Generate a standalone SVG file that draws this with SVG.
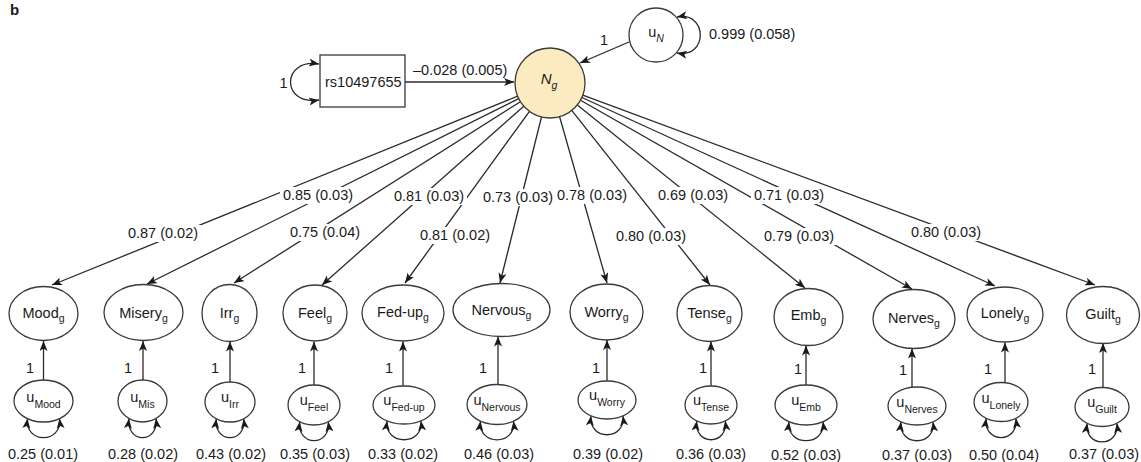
<svg xmlns="http://www.w3.org/2000/svg" width="1141" height="462" viewBox="0 0 1141 462">
<style>
text{font-family:"Liberation Sans",Arial,sans-serif;font-size:14.5px;fill:#1a1a1a}
.sub{font-size:10.5px}
.node{fill:#fff;stroke:#3a3a3a;stroke-width:1.3}
.c{fill:none;stroke:#2a2a2a;stroke-width:1.3}
.bg{fill:#fff;stroke:none}
.m{text-anchor:middle}
</style>
<defs>
<marker id="ah" markerUnits="userSpaceOnUse" markerWidth="10" markerHeight="8" refX="10" refY="4" orient="auto-start-reverse" viewBox="0 0 10 8">
<path d="M0,0 L10,4 L0,8 L2.5,4 z" fill="#1a1a1a"/>
</marker>
</defs>
<text x="10" y="15" style="font-weight:bold;font-size:15px">b</text>

<g id="connectors">
<line class="c" x1="517.6" y1="96.2" x2="52" y2="285" marker-end="url(#ah)"/>
<line class="c" x1="518.7" y1="98.6" x2="147" y2="284" marker-end="url(#ah)"/>
<line class="c" x1="520.4" y1="101.7" x2="234" y2="283" marker-end="url(#ah)"/>
<line class="c" x1="523.8" y1="106.2" x2="322" y2="285" marker-end="url(#ah)"/>
<line class="c" x1="529.5" y1="111.3" x2="405" y2="283" marker-end="url(#ah)"/>
<line class="c" x1="541.5" y1="117" x2="500" y2="283" marker-end="url(#ah)"/>
<line class="c" x1="559.6" y1="116.7" x2="607" y2="283" marker-end="url(#ah)"/>
<line class="c" x1="571.7" y1="110.4" x2="710" y2="285" marker-end="url(#ah)"/>
<line class="c" x1="577.3" y1="104.9" x2="805" y2="288" marker-end="url(#ah)"/>
<line class="c" x1="580.5" y1="100.2" x2="912" y2="289" marker-end="url(#ah)"/>
<line class="c" x1="581.9" y1="97.5" x2="995" y2="286" marker-end="url(#ah)"/>
<line class="c" x1="582.8" y1="95.2" x2="1095" y2="285" marker-end="url(#ah)"/>
<line class="c" x1="405" y1="82" x2="514" y2="82" marker-end="url(#ah)"/>
<line class="c" x1="629" y1="42" x2="580" y2="63" marker-end="url(#ah)"/>
<path class="c" d="M319 64 C281 58 281 106 319 100" marker-start="url(#ah)" marker-end="url(#ah)"/>
<path class="c" d="M677 17 C708 11 708 59 677 53" marker-start="url(#ah)" marker-end="url(#ah)"/>
<line class="c" x1="43.5" y1="380" x2="43.5" y2="341" marker-end="url(#ah)"/>
<line class="c" x1="143" y1="380" x2="143" y2="341" marker-end="url(#ah)"/>
<line class="c" x1="230" y1="382" x2="230" y2="341.5" marker-end="url(#ah)"/>
<line class="c" x1="314" y1="385" x2="314" y2="341.5" marker-end="url(#ah)"/>
<line class="c" x1="403" y1="386" x2="403" y2="341.5" marker-end="url(#ah)"/>
<line class="c" x1="498" y1="384.5" x2="498" y2="336.5" marker-end="url(#ah)"/>
<line class="c" x1="607" y1="381" x2="607" y2="340" marker-end="url(#ah)"/>
<line class="c" x1="711" y1="386" x2="711" y2="341.5" marker-end="url(#ah)"/>
<line class="c" x1="806" y1="385" x2="806" y2="345.5" marker-end="url(#ah)"/>
<line class="c" x1="912" y1="387.5" x2="912" y2="348.5" marker-end="url(#ah)"/>
<line class="c" x1="1005" y1="383" x2="1005" y2="342.5" marker-end="url(#ah)"/>
<line class="c" x1="1103" y1="387.5" x2="1103" y2="343" marker-end="url(#ah)"/>
<path class="c" d="M27.5 418.6 C24.5 444 62.5 444 59.5 418.6" marker-start="url(#ah)" marker-end="url(#ah)"/>
<path class="c" d="M129 418.5 C126 444 159 444 156 418.5" marker-start="url(#ah)" marker-end="url(#ah)"/>
<path class="c" d="M216.3 418.7 C213.3 444 246.7 444 243.7 418.7" marker-start="url(#ah)" marker-end="url(#ah)"/>
<path class="c" d="M299.7 421.7 C296.7 447 331.3 447 328.3 421.7" marker-start="url(#ah)" marker-end="url(#ah)"/>
<path class="c" d="M387 420.9 C384 446 424 446 421 420.9" marker-start="url(#ah)" marker-end="url(#ah)"/>
<path class="c" d="M480.5 421.2 C477.5 446 516.5 446 513.5 421.2" marker-start="url(#ah)" marker-end="url(#ah)"/>
<path class="c" d="M591 415.9 C588 441 626 441 623 415.9" marker-start="url(#ah)" marker-end="url(#ah)"/>
<path class="c" d="M696.7 420.9 C693.7 446 728.3 446 725.3 420.9" marker-start="url(#ah)" marker-end="url(#ah)"/>
<path class="c" d="M789 421.7 C786 447 826 447 823 421.7" marker-start="url(#ah)" marker-end="url(#ah)"/>
<path class="c" d="M901 421.9 C898 447 936 447 933 421.9" marker-start="url(#ah)" marker-end="url(#ah)"/>
<path class="c" d="M986.1 418.3 C983.1 444 1018.9 444 1015.9 418.3" marker-start="url(#ah)" marker-end="url(#ah)"/>
<path class="c" d="M1087.1 423.3 C1084.1 448 1119.9 448 1116.9 423.3" marker-start="url(#ah)" marker-end="url(#ah)"/>
</g>

<g id="edge-labels">
<rect class="bg" x="125" y="225" width="76" height="17"/>
<rect class="bg" x="280" y="187" width="76" height="17"/>
<rect class="bg" x="287" y="224" width="76" height="17"/>
<rect class="bg" x="391" y="188" width="76" height="17"/>
<rect class="bg" x="417" y="227" width="76" height="17"/>
<rect class="bg" x="480" y="189" width="76" height="17"/>
<rect class="bg" x="554" y="187" width="76" height="17"/>
<rect class="bg" x="613" y="228" width="76" height="17"/>
<rect class="bg" x="655" y="187" width="76" height="17"/>
<rect class="bg" x="751" y="187" width="76" height="17"/>
<rect class="bg" x="761" y="228" width="76" height="17"/>
<rect class="bg" x="908" y="224" width="76" height="17"/>
<text class="m" x="163" y="238">0.87 (0.02)</text>
<text class="m" x="318" y="200">0.85 (0.03)</text>
<text class="m" x="325" y="237">0.75 (0.04)</text>
<text class="m" x="429" y="201">0.81 (0.03)</text>
<text class="m" x="455" y="240">0.81 (0.02)</text>
<text class="m" x="518" y="202">0.73 (0.03)</text>
<text class="m" x="592" y="200">0.78 (0.03)</text>
<text class="m" x="651" y="241">0.80 (0.03)</text>
<text class="m" x="693" y="200">0.69 (0.03)</text>
<text class="m" x="789" y="200">0.71 (0.03)</text>
<text class="m" x="799" y="241">0.79 (0.03)</text>
<text class="m" x="946" y="237">0.80 (0.03)</text>
<text x="413" y="75">–0.028 (0.005)</text>
<text class="m" x="604" y="45">1</text>
<text x="709" y="39">0.999 (0.058)</text>
<text class="m" x="283.5" y="88">1</text>
<text class="m" x="30" y="373">1</text>
<text class="m" x="128" y="373">1</text>
<text class="m" x="215" y="373">1</text>
<text class="m" x="302" y="373">1</text>
<text class="m" x="389" y="373">1</text>
<text class="m" x="483" y="373">1</text>
<text class="m" x="596" y="373">1</text>
<text class="m" x="703" y="373">1</text>
<text class="m" x="798" y="374">1</text>
<text class="m" x="903" y="375">1</text>
<text class="m" x="988" y="374">1</text>
<text class="m" x="1092" y="374">1</text>
<text class="m" x="43" y="459">0.25 (0.01)</text>
<text class="m" x="143" y="459">0.28 (0.02)</text>
<text class="m" x="231" y="459">0.43 (0.02)</text>
<text class="m" x="315" y="459">0.35 (0.03)</text>
<text class="m" x="403" y="459">0.33 (0.02)</text>
<text class="m" x="499" y="459">0.46 (0.03)</text>
<text class="m" x="608" y="459">0.39 (0.02)</text>
<text class="m" x="711" y="459">0.36 (0.03)</text>
<text class="m" x="806" y="460">0.52 (0.03)</text>
<text class="m" x="917" y="460">0.37 (0.03)</text>
<text class="m" x="1004" y="460">0.50 (0.04)</text>
<text class="m" x="1104" y="459">0.37 (0.03)</text>
</g>

<g id="rs10497655">
<rect class="node" x="320" y="55" width="85" height="52"/>
<text x="325" y="87">rs10497655</text>
</g>
<g id="Ng">
<circle cx="550" cy="83" r="35" fill="#FCEBC1" stroke="#3a3a3a" stroke-width="1.3"/>
<text class="m" x="549" y="84" style="font-style:italic;font-size:15px">N<tspan class="sub" dy="5">g</tspan></text>
</g>
<g id="uN">
<ellipse class="node" cx="656" cy="35" rx="27" ry="27"/>
<text class="m" x="656" y="37">u<tspan class="sub" dy="5" style="font-style:italic">N</tspan></text>
</g>

<g id="Mood"><ellipse class="node" cx="43.5" cy="313.5" rx="34.5" ry="27"/><text class="m" x="43.5" y="318">Mood<tspan class="sub" dy="4">g</tspan></text></g>
<g id="Misery"><ellipse class="node" cx="143.5" cy="312.5" rx="39.5" ry="28"/><text class="m" x="143.5" y="318">Misery<tspan class="sub" dy="4">g</tspan></text></g>
<g id="Irr"><ellipse class="node" cx="229.5" cy="313" rx="27.5" ry="28.5"/><text class="m" x="229.5" y="318">Irr<tspan class="sub" dy="4">g</tspan></text></g>
<g id="Feel"><ellipse class="node" cx="315" cy="313" rx="32" ry="28"/><text class="m" x="315" y="318">Feel<tspan class="sub" dy="4">g</tspan></text></g>
<g id="Fedup"><ellipse class="node" cx="403" cy="313" rx="41" ry="28"/><text class="m" x="403" y="317">Fed-up<tspan class="sub" dy="4">g</tspan></text></g>
<g id="Nervous"><ellipse class="node" cx="501.5" cy="310" rx="48.5" ry="26.5"/><text class="m" x="501.5" y="315">Nervous<tspan class="sub" dy="4">g</tspan></text></g>
<g id="Worry"><ellipse class="node" cx="606.5" cy="312" rx="36.5" ry="28"/><text class="m" x="606.5" y="317">Worry<tspan class="sub" dy="4">g</tspan></text></g>
<g id="Tense"><ellipse class="node" cx="709.5" cy="313.5" rx="32.5" ry="28"/><text class="m" x="709.5" y="318">Tense<tspan class="sub" dy="4">g</tspan></text></g>
<g id="Emb"><ellipse class="node" cx="808.5" cy="317" rx="34.5" ry="28.5"/><text class="m" x="808.5" y="320">Emb<tspan class="sub" dy="4">g</tspan></text></g>
<g id="Nerves"><ellipse class="node" cx="914" cy="319" rx="41" ry="29.5"/><text class="m" x="914" y="323">Nerves<tspan class="sub" dy="4">g</tspan></text></g>
<g id="Lonely"><ellipse class="node" cx="1005" cy="314.5" rx="38" ry="27.5"/><text class="m" x="1005" y="318">Lonely<tspan class="sub" dy="4">g</tspan></text></g>
<g id="Guilt"><ellipse class="node" cx="1103" cy="315" rx="36.5" ry="28.5"/><text class="m" x="1103" y="319">Guilt<tspan class="sub" dy="4">g</tspan></text></g>

<g id="uMood"><ellipse class="node" cx="43.5" cy="401" rx="29.5" ry="21"/><text class="m" x="43.5" y="402">u<tspan class="sub" dy="6">Mood</tspan></text></g>
<g id="uMis"><ellipse class="node" cx="142.5" cy="401" rx="24.5" ry="21"/><text class="m" x="142.5" y="402">u<tspan class="sub" dy="6">Mis</tspan></text></g>
<g id="uIrr"><ellipse class="node" cx="230" cy="402" rx="25" ry="20"/><text class="m" x="230" y="402">u<tspan class="sub" dy="6">Irr</tspan></text></g>
<g id="uFeel"><ellipse class="node" cx="314" cy="405" rx="26" ry="20"/><text class="m" x="314" y="405">u<tspan class="sub" dy="6">Feel</tspan></text></g>
<g id="uFedup"><ellipse class="node" cx="404" cy="405" rx="31" ry="19"/><text class="m" x="404" y="405">u<tspan class="sub" dy="6">Fed-up</tspan></text></g>
<g id="uNervous"><ellipse class="node" cx="497" cy="404.5" rx="30" ry="20"/><text class="m" x="497" y="405">u<tspan class="sub" dy="6">Nervous</tspan></text></g>
<g id="uWorry"><ellipse class="node" cx="607" cy="400" rx="29" ry="19"/><text class="m" x="607" y="400">u<tspan class="sub" dy="6">Worry</tspan></text></g>
<g id="uTense"><ellipse class="node" cx="711" cy="405" rx="26" ry="19"/><text class="m" x="711" y="405">u<tspan class="sub" dy="6">Tense</tspan></text></g>
<g id="uEmb"><ellipse class="node" cx="806" cy="405" rx="31" ry="20"/><text class="m" x="806" y="405">u<tspan class="sub" dy="6">Emb</tspan></text></g>
<g id="uNerves"><ellipse class="node" cx="917" cy="406" rx="29" ry="19"/><text class="m" x="917" y="407">u<tspan class="sub" dy="6">Nerves</tspan></text></g>
<g id="uLonely"><ellipse class="node" cx="1001" cy="402" rx="27" ry="19.5"/><text class="m" x="1001" y="403">u<tspan class="sub" dy="6">Lonely</tspan></text></g>
<g id="uGuilt"><ellipse class="node" cx="1102" cy="407" rx="27" ry="19.5"/><text class="m" x="1102" y="407">u<tspan class="sub" dy="6">Guilt</tspan></text></g>
</svg>
